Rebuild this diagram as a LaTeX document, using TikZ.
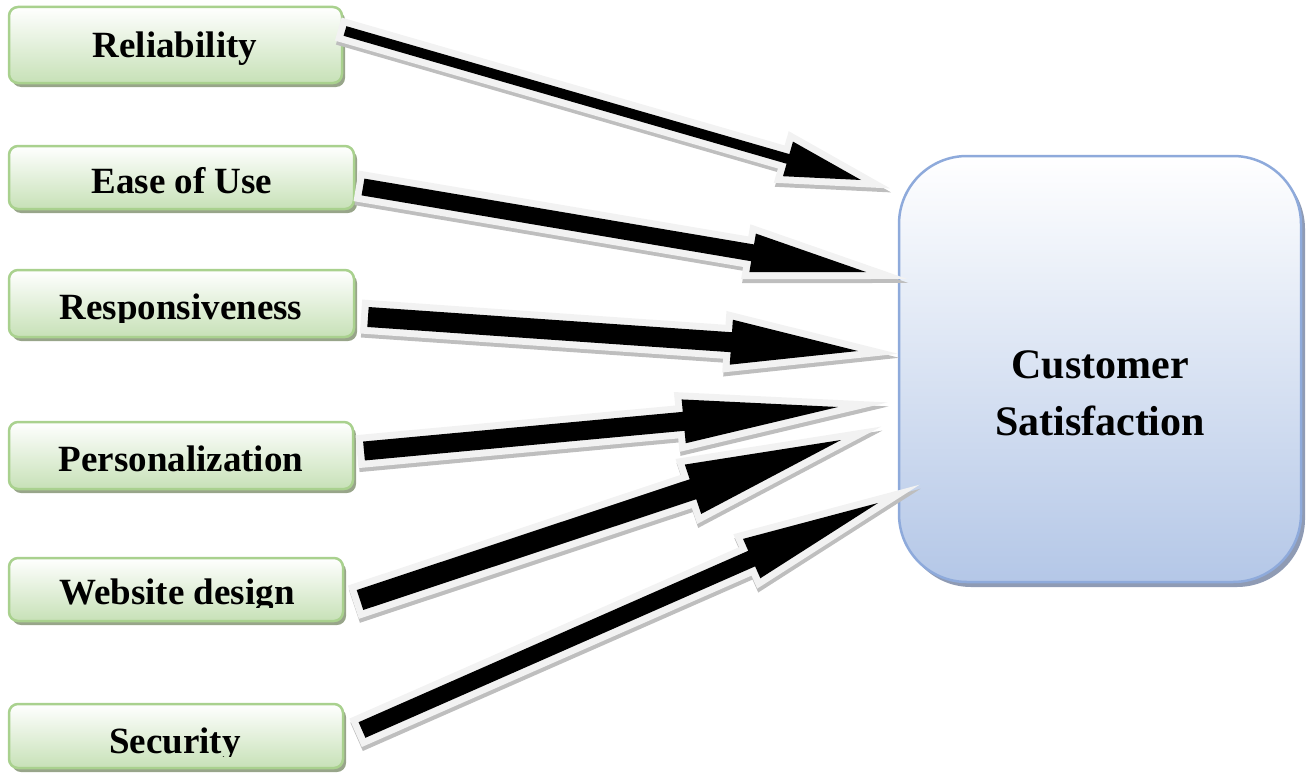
\documentclass[tikz,border=0pt]{standalone}
\usepackage{fontspec}
\setmainfont{Liberation Serif}
\usetikzlibrary{calc,shadows}
\definecolor{gborder}{RGB}{169,209,142}
\definecolor{gbottom}{RGB}{199,225,183}
\definecolor{gshadow}{RGB}{152,165,138}
\definecolor{bborder}{RGB}{142,170,219}
\definecolor{bbottom}{RGB}{180,199,231}
\definecolor{bshadow}{RGB}{143,155,180}
\definecolor{aoutline}{RGB}{242,242,242}
\definecolor{ashadow}{RGB}{190,190,190}
\tikzset{
  lbox/.style={draw=gborder, line width=2.5pt, rounded corners=9pt,
    top color=white, bottom color=gbottom, inner sep=0pt,
    drop shadow={shadow xshift=3pt, shadow yshift=-4pt, fill=gshadow, opacity=1}},
  ltext/.style={font=\fontsize{37}{44}\selectfont\bfseries, anchor=base, inner sep=0pt},
  rbox/.style={draw=bborder, line width=2.5pt, rounded corners=68pt,
    top color=white, bottom color=bbottom, inner sep=0pt,
    drop shadow={shadow xshift=4pt, shadow yshift=-5pt, fill=bshadow, opacity=1}},
  rtext/.style={font=\fontsize{42}{57}\selectfont\bfseries, anchor=base, inner sep=0pt},
  arrowshadow/.style={fill=ashadow, draw=ashadow, line width=14pt, miter limit=10},
  arrowoutline/.style={draw=aoutline, line width=14pt, miter limit=10},
  arrowbody/.style={fill=black},
}
% #1 tail, #2 tip, #3 half shaft width, #4 half head width, #5 head length
\newcommand\blockarrow[5]{%
  \coordinate (H) at ($(#2)!#5pt!(#1)$);
  \coordinate (P1) at ($(#1)!#3pt!90:(#2)$);
  \coordinate (P2) at ($(#1)!#3pt!-90:(#2)$);
  \coordinate (Q1) at ($(H)!#3pt!90:(#2)$);
  \coordinate (Q2) at ($(H)!#3pt!-90:(#2)$);
  \coordinate (R1) at ($(H)!#4pt!90:(#2)$);
  \coordinate (R2) at ($(H)!#4pt!-90:(#2)$);
  \begin{scope}[transform canvas={shift={(1,4)}}]
    \path[arrowshadow] (P1)--(Q1)--(R1)--(#2)--(R2)--(Q2)--(P2)--cycle;
  \end{scope}
  \path[arrowoutline] (P1)--(Q1)--(R1)--(#2)--(R2)--(Q2)--(P2)--cycle;
  \path[arrowbody] (P1)--(Q1)--(R1)--(#2)--(R2)--(Q2)--(P2)--cycle;
}
\begin{document}
\begin{tikzpicture}[x=1pt,y=-1pt]
\useasboundingbox (0,0) rectangle (1311,776);
% left boxes
\node[lbox, minimum width=333pt, minimum height=76pt] (rel) at (175.5,45) {};
\node[lbox, minimum width=345pt, minimum height=63pt] (ease) at (181.5,177.5) {};
\node[lbox, minimum width=345pt, minimum height=67pt] (resp) at (181.5,303.5) {};
\node[lbox, minimum width=344pt, minimum height=67pt] (pers) at (181,455.5) {};
\node[lbox, minimum width=334pt, minimum height=63pt] (web) at (176,589.5) {};
\node[lbox, minimum width=334pt, minimum height=64pt] (sec) at (176,736) {};
% labels
\node[ltext] (relt) at (175,57) {Reliability};
\begin{scope}\clip (0,0) rectangle (1311,195.5);
\node[ltext] (easet) at (182,193) {Ease of Use};\end{scope}
\begin{scope}\clip (0,0) rectangle (1311,322);
\node[ltext] (respt) at (181,319) {Responsiveness};\end{scope}
\node[ltext] (perst) at (181,471) {Personalization};
\begin{scope}\clip (0,0) rectangle (1311,607);
\node[ltext] (webt) at (177,604) {Website design};\end{scope}
\begin{scope}\clip (0,0) rectangle (1311,756);
\node[ltext] (sect) at (175,753) {Security};\end{scope}
% right box
\node[rbox, minimum width=402pt, minimum height=426pt] (cs) at (1100,369) {};
\node[rtext] (cst1) at (1100,378) {Customer};
\node[rtext] (cst2) at (1100,435) {Satisfaction};
% arrow ends
\coordinate (a1s) at (345,31);  \coordinate (a1e) at (861,180);
\coordinate (a2s) at (363,187); \coordinate (a2e) at (866,272);
\coordinate (a3s) at (368,317); \coordinate (a3e) at (858,351);
\coordinate (a4s) at (364,451); \coordinate (a4e) at (838,407);
\coordinate (a5s) at (360,600); \coordinate (a5e) at (841,440);
\coordinate (a6s) at (362,730); \coordinate (a6e) at (878,503);
\blockarrow{a1s}{a1e}{5}{18}{76}
\blockarrow{a2s}{a2e}{8.5}{19.5}{115}
\blockarrow{a3s}{a3e}{10}{22.5}{127}
\blockarrow{a4s}{a4e}{9.5}{22}{155}
\blockarrow{a5s}{a5e}{10.5}{26}{156}
\blockarrow{a6s}{a6e}{8.5}{21.5}{138}
\end{tikzpicture}
\end{document}
